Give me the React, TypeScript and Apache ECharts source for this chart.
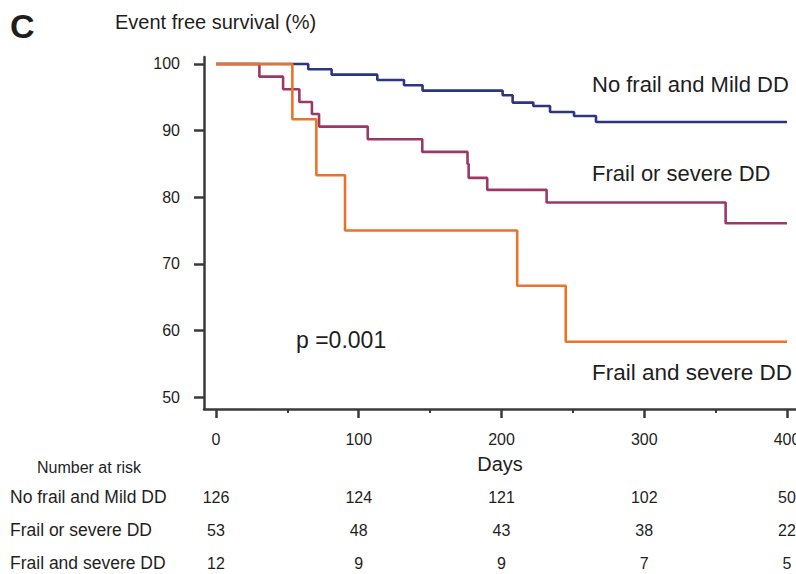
import React, { useEffect, useRef } from "react";
import * as echarts from "echarts";

const FONT = "'Liberation Sans', Arial, Helvetica, sans-serif";

// Kaplan-Meier steps (days, survival %)
const noFrailDays = [0, 64.6, 81, 113, 131.7, 144.7, 200.8, 207.8, 222.3, 234, 250.8, 266.2, 400];
const noFrailSurv = [100, 99.2, 98.4, 97.6, 96.8, 96.0, 95.3, 94.2, 93.7, 92.8, 92.2, 91.3, 91.3];

const frailOrDays = [0, 30.4, 47, 58.4, 67.2, 72.2, 106.3, 144.5, 176.2, 177, 190, 231.6, 357, 400];
const frailOrSurv = [100, 98.1, 96.2, 94.3, 92.5, 90.6, 88.7, 86.8, 85.0, 82.9, 81.1, 79.2, 76.1, 76.1];

const frailAndDays = [0, 53.5, 70.3, 90.4, 211, 245, 400];
const frailAndSurv = [100, 91.7, 83.3, 75.0, 66.7, 58.3, 58.3];

const xMajorTicks = [0, 100, 200, 300, 400];
const xMinorTicks = [50, 150, 250, 350];
const yTicks = [50, 60, 70, 80, 90, 100];

const groupNames = ["No frail and Mild DD", "Frail or severe DD", "Frail and severe DD"];
const riskTimes = [0, 100, 200, 300, 400];
const riskNoFrail = [126, 124, 121, 102, 50];
const riskFrailOr = [53, 48, 43, 38, 22];
const riskFrailAnd = [12, 9, 9, 7, 5];

const COLORS = ["#2c3680", "#9b3868", "#e8742a"];
const AXIS = "#3a3a3a";
const TEXT = "#1e1e1e";

const zip = (a: number[], b: number[]) => a.map((v, i) => [v, b[i]]);

export default function App() {
  const ref = useRef<HTMLDivElement>(null);
  useEffect(() => {
    if (!ref.current) return;
    const chart = echarts.init(ref.current, undefined, { renderer: "svg" });
    const xMin = -8.4;
    const xMax = 406.3;
    const line = (data: number[][], color: string) => ({
      type: "line",
      step: "end",
      data,
      symbol: "none",
      lineStyle: { color, width: 2.6 },
      xAxisIndex: 0,
      yAxisIndex: 0,
      silent: true,
    });
    chart.setOption({
      animation: false,
      grid: { left: 204, right: 0, top: 57, bottom: 165, containLabel: false, outerBoundsMode: "none" },
      xAxis: [
        {
          type: "value",
          min: xMin,
          max: xMax,
          axisLine: { show: true, onZero: false, lineStyle: { color: AXIS, width: 2.5 } },
          axisTick: { show: true, length: 9, lineStyle: { color: AXIS, width: 2.5 }, customValues: xMajorTicks },
          axisLabel: { show: true, margin: 22, color: TEXT, fontSize: 16, fontFamily: FONT, customValues: xMajorTicks },
          splitLine: { show: false },
        },
        {
          type: "value",
          min: xMin,
          max: xMax,
          position: "bottom",
          axisLine: { show: false, onZero: false },
          axisTick: { show: true, length: 4, lineStyle: { color: AXIS, width: 2 }, customValues: xMinorTicks },
          axisLabel: { show: false },
          splitLine: { show: false },
        },
      ],
      yAxis: {
        type: "value",
        min: 48.2,
        max: 101.05,
        axisLine: { show: true, onZero: false, lineStyle: { color: AXIS, width: 2.5 } },
        axisTick: { show: true, length: 10, lineStyle: { color: AXIS, width: 2.5 }, customValues: yTicks },
        axisLabel: { show: true, margin: 24, color: TEXT, fontSize: 16, fontFamily: FONT, customValues: yTicks },
        splitLine: { show: false },
      },
      series: [
        line(zip(noFrailDays, noFrailSurv), COLORS[0]),
        line(zip(frailOrDays, frailOrSurv), COLORS[1]),
        line(zip(frailAndDays, frailAndSurv), COLORS[2]),
      ],
    });

    const txt = (x: number, y: number, text: string, size: number, align = "left", weight = "normal") => ({
      type: "text",
      x,
      y,
      silent: true,
      style: {
        text,
        fill: TEXT,
        fontSize: size,
        fontFamily: FONT,
        fontWeight: weight,
        align,
        verticalAlign: "middle",
      },
    });

    const rowsY = [497, 530, 563];
    const riskRows = [riskNoFrail, riskFrailOr, riskFrailAnd];
    const graphics: any[] = [
      txt(10, 26, "C", 34, "left", "bold"),
      txt(115, 22, "Event free survival (%)", 20),
      txt(500, 464, "Days", 20, "center"),
      txt(592, 84, groupNames[0], 22),
      txt(592, 173, groupNames[1], 22),
      txt(592, 372, groupNames[2], 22.5),
      txt(296, 340, "p =0.001", 23),
      txt(37, 467, "Number at risk", 16),
    ];
    riskRows.forEach((row, r) => {
      graphics.push(txt(10, rowsY[r], groupNames[r], 17.5));
      row.forEach((n, i) => {
        const px = chart.convertToPixel({ xAxisIndex: 0 }, riskTimes[i]) as number;
        graphics.push(txt(px, rowsY[r], String(n), 16, "center"));
      });
    });
    chart.setOption({ graphic: graphics });

    return () => chart.dispose();
  }, []);
  return (
    <div
      ref={ref}
      style={{ position: "fixed", left: 0, top: 0, width: 796, height: 574, background: "#fff" }}
    />
  );
}
